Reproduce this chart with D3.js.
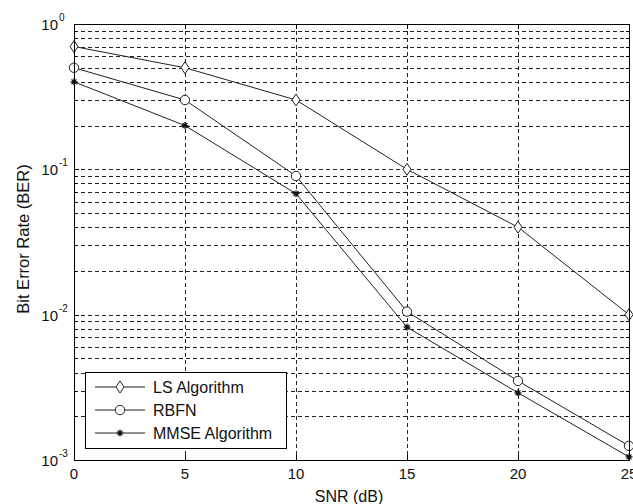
<!DOCTYPE html>
<html>
<head>
<meta charset="utf-8">
<script src="https://cdn.jsdelivr.net/npm/d3@7"></script>
<style>
  body { margin: 0; background: #fff; }
  text { font-family: Arial, "Liberation Sans", sans-serif; fill: #111; }
</style>
</head>
<body>
<div id="chart"></div>
<script>
var snr = [0, 5, 10, 15, 20, 25];
var lsBer = [0.7, 0.5, 0.3, 0.1, 0.04, 0.01];
var rbfnBer = [0.5, 0.3, 0.09, 0.0105, 0.0035, 0.00125];
var mmseBer = [0.4, 0.2, 0.068, 0.0082, 0.0029, 0.00105];
var seriesNames = ["LS Algorithm", "RBFN", "MMSE Algorithm"];
var xTicks = [0, 5, 10, 15, 20, 25];
var yExps = [0, -1, -2, -3];

var width = 633, height = 504;
var pLeft = 74, pRight = 629, pTop = 24, pBottom = 460;

var svg = d3.select("#chart").append("svg")
    .attr("width", width)
    .attr("height", height);

var x = d3.scaleLinear().domain([0, 25]).range([pLeft, pRight]);
var y = d3.scaleLog().domain([1e-3, 1]).range([pBottom, pTop]);

// grid
var grid = svg.append("g")
    .attr("stroke", "#222")
    .attr("stroke-width", 1)
    .attr("stroke-dasharray", "4,3")
    .attr("shape-rendering", "crispEdges");

var yGrid = [];
for (var e = -3; e < 0; e++) {
  for (var m = 1; m < 10; m++) {
    if (!(e == -3 && m == 1)) yGrid.push(m * Math.pow(10, e));
  }
}
grid.selectAll("line.h").data(yGrid).enter().append("line")
    .attr("x1", pLeft).attr("x2", pRight)
    .attr("y1", d => Math.round(y(d)) + 0.5).attr("y2", d => Math.round(y(d)) + 0.5);
grid.selectAll("line.v").data(xTicks.slice(1, -1)).enter().append("line")
    .attr("y1", pTop).attr("y2", pBottom)
    .attr("x1", d => Math.round(x(d)) + 0.5).attr("x2", d => Math.round(x(d)) + 0.5);

// tick marks inside
var ticks = svg.append("g").attr("stroke", "#000").attr("shape-rendering", "crispEdges");
xTicks.forEach(function (t) {
  var px = Math.round(x(t)) + 0.5;
  ticks.append("line").attr("x1", px).attr("x2", px).attr("y1", pBottom).attr("y2", pBottom - 5);
  ticks.append("line").attr("x1", px).attr("x2", px).attr("y1", pTop).attr("y2", pTop + 5);
});
yGrid.concat([1, 1e-3]).forEach(function (t) {
  var py = Math.round(y(t)) + 0.5;
  var len = (Math.abs(Math.log10(t) - Math.round(Math.log10(t))) < 1e-9) ? 5 : 3;
  ticks.append("line").attr("x1", pLeft).attr("x2", pLeft + len).attr("y1", py).attr("y2", py);
  ticks.append("line").attr("x1", pRight).attr("x2", pRight - len).attr("y1", py).attr("y2", py);
});

// series
var line = d3.line().x((d, i) => x(snr[i])).y(d => y(d));
var allSeries = [lsBer, rbfnBer, mmseBer];
var markers = ["diamond", "circle", "star"];

function drawMarker(g, kind, cx, cy) {
  if (kind == "diamond") {
    g.append("path")
      .attr("d", `M${cx},${cy - 6}L${cx + 4},${cy}L${cx},${cy + 6}L${cx - 4},${cy}Z`)
      .attr("fill", "#fff").attr("stroke", "#222");
  } else if (kind == "circle") {
    g.append("circle").attr("cx", cx).attr("cy", cy).attr("r", 4.7)
      .attr("fill", "#fff").attr("stroke", "#222");
  } else {
    var s = 3.5;
    g.append("path")
      .attr("d", `M${cx - s},${cy}L${cx + s},${cy}M${cx},${cy - s}L${cx},${cy + s}` +
                 `M${cx - s * 0.7},${cy - s * 0.7}L${cx + s * 0.7},${cy + s * 0.7}` +
                 `M${cx - s * 0.7},${cy + s * 0.7}L${cx + s * 0.7},${cy - s * 0.7}`)
      .attr("stroke", "#111").attr("stroke-width", 1.2);
  }
}

allSeries.forEach(function (vals, k) {
  var g = svg.append("g");
  g.append("path").datum(vals)
    .attr("d", line)
    .attr("fill", "none")
    .attr("stroke", "#222")
    .attr("stroke-width", 1);
  vals.forEach(function (v, i) { drawMarker(g, markers[k], x(snr[i]), y(v)); });
});

// box
svg.append("rect")
    .attr("x", pLeft + 0.5).attr("y", pTop + 0.5)
    .attr("width", pRight - pLeft).attr("height", pBottom - pTop)
    .attr("fill", "none").attr("stroke", "#000")
    .attr("shape-rendering", "crispEdges");

// x tick labels
svg.selectAll("text.xt").data(xTicks).enter().append("text")
    .attr("x", d => x(d)).attr("y", pBottom + 19)
    .attr("text-anchor", "middle")
    .attr("font-size", 15)
    .text(d => d);

// y tick labels
yExps.forEach(function (e) {
  var py = y(Math.pow(10, e));
  svg.append("text").attr("x", 58).attr("y", py + 6)
      .attr("text-anchor", "end").attr("font-size", 15).text("10");
  svg.append("text").attr("x", 59).attr("y", py - 3)
      .attr("font-size", 10).text(e);
});

// axis labels
svg.append("text")
    .attr("x", 349).attr("y", 502)
    .attr("text-anchor", "middle").attr("font-size", 16)
    .text("SNR (dB)");
svg.append("text")
    .attr("transform", "translate(29,239) rotate(-90)")
    .attr("text-anchor", "middle").attr("font-size", 16.5)
    .text("Bit Error Rate (BER)");

// legend
var lg = svg.append("g");
lg.append("rect")
    .attr("x", 85.5).attr("y", 372.5).attr("width", 201).attr("height", 76)
    .attr("fill", "#fff").attr("stroke", "#000")
    .attr("shape-rendering", "crispEdges");
seriesNames.forEach(function (name, k) {
  var ly = 387 + k * 23;
  lg.append("line").attr("x1", 95).attr("x2", 145).attr("y1", ly).attr("y2", ly)
    .attr("stroke", "#222");
  drawMarker(lg, markers[k], 120, ly);
  lg.append("text").attr("x", 153).attr("y", ly + 6)
    .attr("font-size", 16).text(name);
});
</script>
</body>
</html>
